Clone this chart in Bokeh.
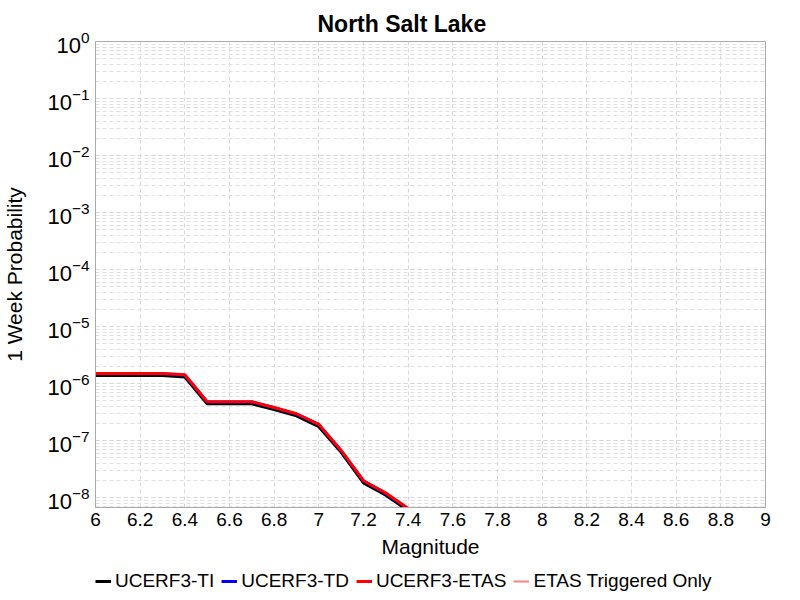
from bokeh.plotting import figure
from bokeh.layouts import column
from bokeh.models import (Range1d, FixedTicker, LogTicker, Legend, LegendItem)
from bokeh.embed import file_html
from bokeh.resources import INLINE

mags = [6.0, 6.1, 6.2, 6.3, 6.4, 6.5, 6.6, 6.7, 6.8, 6.9, 7.0, 7.1, 7.2, 7.3, 7.4]
prob_ti = [1.38e-6, 1.38e-6, 1.38e-6, 1.38e-6, 1.30e-6, 4.4e-7, 4.4e-7, 4.4e-7,
           3.5e-7, 2.7e-7, 1.75e-7, 6.2e-8, 1.8e-8, 1.1e-8, 5.9e-9]
prob_td = [1.48e-6, 1.48e-6, 1.48e-6, 1.48e-6, 1.40e-6, 4.75e-7, 4.75e-7, 4.75e-7,
           3.75e-7, 2.9e-7, 1.9e-7, 6.6e-8, 1.95e-8, 1.18e-8, 6.3e-9]
prob_etas = [1.50e-6, 1.50e-6, 1.50e-6, 1.50e-6, 1.42e-6, 4.8e-7, 4.8e-7, 4.8e-7,
             3.8e-7, 2.95e-7, 1.92e-7, 6.7e-8, 1.97e-8, 1.2e-8, 6.4e-9]
# triggered-only probabilities fall below the plotted range
trig_mags = [6.0, 6.5, 7.0]
trig_prob = [1e-12, 1e-12, 1e-12]

x_ticks = [6.0, 6.2, 6.4, 6.6, 6.8, 7.0, 7.2, 7.4, 7.6, 7.8, 8.0, 8.2, 8.4, 8.6, 8.8, 9.0]
x_labels = ["6", "6.2", "6.4", "6.6", "6.8", "7", "7.2", "7.4", "7.6", "7.8",
            "8", "8.2", "8.4", "8.6", "8.8", "9"]

series_names = ["UCERF3-TI", "UCERF3-TD", "UCERF3-ETAS", "ETAS Triggered Only"]
series_colors = ["black", "blue", "red", "#ff8080"]

FONT = "Liberation Sans"

p = figure(width=800, height=565, y_axis_type="log",
           x_range=Range1d(6, 9), y_range=Range1d(6.68e-9, 1.0),
           output_backend="svg", toolbar_location=None,
           title="North Salt Lake",
           min_border_left=95, min_border_right=35, min_border_top=41,
           min_border_bottom=58)

p.title.align = "left"
p.title.offset = 222
p.title.text_font = FONT
p.title.text_font_size = "23px"
p.title.text_font_style = "bold"
p.title.text_color = "black"

p.outline_line_color = "#aaaaaa"
p.outline_line_width = 1

p.xaxis.ticker = FixedTicker(ticks=x_ticks)
p.xaxis.major_label_overrides = {t: l for t, l in zip(x_ticks, x_labels)}
p.yaxis.ticker = LogTicker(num_minor_ticks=10)
for ax in (p.xaxis[0], p.yaxis[0]):
    ax.axis_line_color = "#aaaaaa"
    ax.major_tick_line_color = None
    ax.minor_tick_line_color = None
    ax.major_tick_out = 0
    ax.minor_tick_out = 0
    ax.major_label_text_font = FONT
    ax.major_label_text_color = "black"
    ax.axis_label_text_font = FONT
    ax.axis_label_text_font_style = "normal"
    ax.axis_label_text_font_size = "21px"
    ax.axis_label_text_color = "black"
p.xaxis.major_label_text_font_size = "19px"
p.yaxis.major_label_text_font_size = "22px"
p.xaxis.major_label_standoff = 5
p.xaxis.axis_label_standoff = 6
p.yaxis.major_label_standoff = 6
p.yaxis.axis_label_standoff = 18
p.xaxis.axis_label = "Magnitude"
p.yaxis.axis_label = "1 Week Probability"

p.xgrid.grid_line_color = "#d8d8d8"
p.xgrid.grid_line_dash = "4 3"
p.ygrid.grid_line_color = "#d8d8d8"
p.ygrid.grid_line_dash = "4 3"
p.ygrid.minor_grid_line_color = "#e0e0e0"
p.ygrid.minor_grid_line_dash = "4 3"

p.line(mags, prob_ti, line_color=series_colors[0], line_width=3)
p.line(mags, prob_td, line_color=series_colors[1], line_width=3)
p.line(mags, prob_etas, line_color=series_colors[2], line_width=3)
p.line(trig_mags, trig_prob, line_color=series_colors[3], line_width=2)

# legend strip below the chart (its frame is aligned with the chart's frame)
lf = figure(width=800, height=35, x_range=Range1d(0, 1), y_range=Range1d(0, 1),
            output_backend="svg", toolbar_location=None,
            min_border=0, min_border_left=0, min_border_right=0,
            min_border_top=0, min_border_bottom=0)
lf.axis.visible = False
lf.grid.visible = False
lf.outline_line_color = None
items = []
for name, col in zip(series_names, series_colors):
    r = lf.line([5, 6], [5, 6], line_color=col, line_width=3 if col != "#ff8080" else 2)
    items.append(LegendItem(label=name, renderers=[r]))
legend = Legend(items=items, orientation="horizontal", location=(0, 8))
legend.label_text_font = FONT
legend.label_text_font_size = "19px"
legend.label_text_color = "black"
legend.border_line_color = None
legend.background_fill_alpha = 0
legend.glyph_width = 16
legend.spacing = 7
legend.label_standoff = 4
legend.padding = 0
legend.margin = 0
lf.add_layout(legend, "center")

layout = column(p, lf, spacing=0)
open("out.html", "w").write(file_html(layout, INLINE))
